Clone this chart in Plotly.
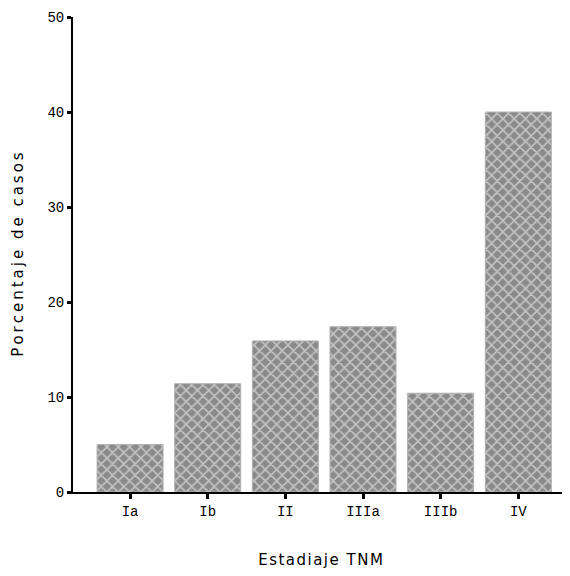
import plotly.graph_objects as go

categories = ["Ia", "Ib", "II", "IIIa", "IIIb", "IV"]
values = [5.0, 11.4, 15.9, 17.4, 10.4, 40.0]
y_ticks = [0, 10, 20, 30, 40, 50]

font_fam = "Liberation Mono, DejaVu Sans Mono, monospace"


def spaced(text, sep):
    return sep.join(text)


fig = go.Figure(go.Bar(
    x=categories, y=values, width=0.85,
    marker=dict(color="#8a8a8a",
                line=dict(color="#b0b0b0", width=1),
                pattern=dict(shape="x", fgcolor="white", bgcolor="#8a8a8a",
                             size=8, solidity=0.35)),
))

# page body has an 8px default margin, so the figure is sized to fit inside
fig.update_layout(
    width=562, height=568,
    margin=dict(l=65, r=2, t=9, b=84),
    plot_bgcolor="white", paper_bgcolor="white",
    showlegend=False,
    font=dict(family=font_fam, size=14, color="black"),
)
fig.update_xaxes(
    range=[-0.735, 5.64], showline=True, linecolor="black", linewidth=2,
    ticks="outside", ticklen=5, tickwidth=3, tickcolor="black",
    showgrid=False, zeroline=False,
    title=dict(text=spaced("Estadiaje TNM", "\u200a"), standoff=36,
               font=dict(size=15, family="DejaVu Sans, sans-serif")),
)
fig.update_yaxes(
    range=[0, 50], tickvals=y_ticks, showline=True, linecolor="black", linewidth=2,
    ticks="outside", ticklen=4, tickwidth=3, tickcolor="black",
    showgrid=False, zeroline=False,
    title=dict(text=spaced("Porcentaje de casos", "\u2009"), standoff=20,
               font=dict(size=15, family="DejaVu Sans, sans-serif")),
)

fig.write_html("out.html")
